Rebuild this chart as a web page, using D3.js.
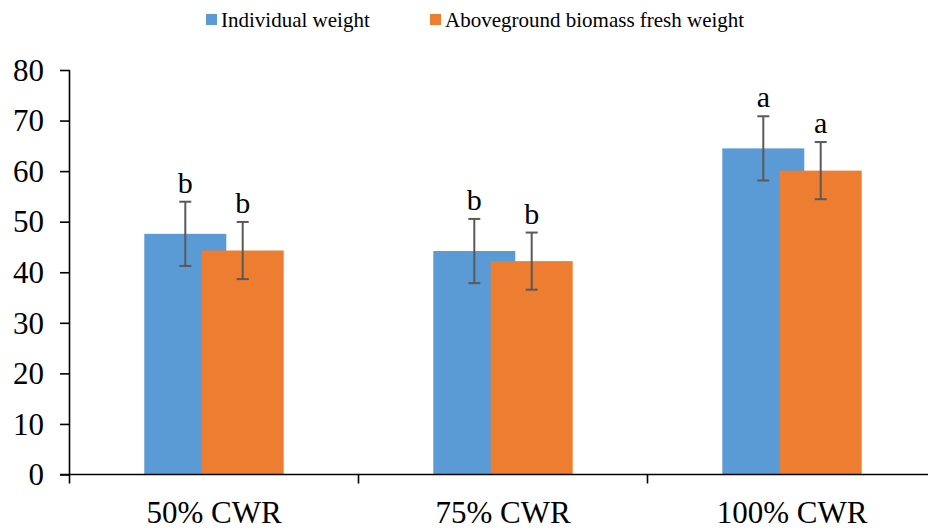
<!DOCTYPE html>
<html>
<head>
<meta charset="utf-8">
<script src="https://cdn.jsdelivr.net/npm/d3@7"></script>
<style>
  body { margin: 0; background: #fff; }
  svg { display: block; }
  svg text { font-family: "Liberation Serif", "Times New Roman", Times, "DejaVu Serif", serif; }
</style>
</head>
<body>
<svg width="928" height="531"></svg>
<script>
// data
const categories = ["50% CWR", "75% CWR", "100% CWR"];
const seriesNames = ["Individual weight", "Aboveground biomass fresh weight"];
const individualWeight = [47.6, 44.2, 64.5];
const individualErr = [6.35, 6.35, 6.35];
const biomassWeight = [44.3, 42.2, 60.1];
const biomassErr = [5.65, 5.65, 5.65];
const individualLetters = ["b", "b", "a"];
const biomassLetters = ["b", "b", "a"];
const yTicks = [0, 10, 20, 30, 40, 50, 60, 70, 80];
const colors = ["#5B9BD5", "#ED7D31"];

const series = [
    { name: seriesNames[0], values: individualWeight, err: individualErr, letters: individualLetters },
    { name: seriesNames[1], values: biomassWeight, err: biomassErr, letters: biomassLetters }
];

const svg = d3.select("svg");
const plotLeft = 69.5, plotBottom = 474.5, plotTop = 70;

const x = d3.scaleBand()
    .domain(categories)
    .range([plotLeft, plotLeft + 867])
    .padding(0);
const y = d3.scaleLinear()
    .domain([0, 80])
    .range([plotBottom, plotTop]);

const barW = 82;
const step = barW * 0.7; // bars overlap like the excel chart
const x1 = d3.scalePoint()
    .domain(seriesNames)
    .range([-step / 2, step / 2]);

// bars
series.forEach((s, si) => {
    const g = svg.append("g");
    g.selectAll("rect")
        .data(categories)
        .enter()
        .append("rect")
            .attr("x", (d) => x(d) + x.bandwidth() / 2 + x1(s.name) - barW / 2)
            .attr("y", (d, i) => y(s.values[i]))
            .attr("width", barW)
            .attr("height", (d, i) => y(0) - y(s.values[i]))
            .attr("fill", colors[si]);
});

// error bars + letters
series.forEach((s) => {
    categories.forEach((c, i) => {
        const cx = x(c) + x.bandwidth() / 2 + x1(s.name);
        const hi = y(s.values[i] + s.err[i]), lo = y(s.values[i] - s.err[i]);
        const eg = svg.append("g")
            .attr("stroke", "#595959")
            .attr("stroke-width", 2);
        eg.append("line").attr("x1", cx).attr("x2", cx).attr("y1", hi).attr("y2", lo);
        eg.append("line").attr("x1", cx - 6).attr("x2", cx + 6).attr("y1", hi).attr("y2", hi);
        eg.append("line").attr("x1", cx - 6).attr("x2", cx + 6).attr("y1", lo).attr("y2", lo);

        svg.append("text")
            .attr("x", cx)
            .attr("y", hi - 9)
            .attr("text-anchor", "middle")
            .attr("font-size", 30)
            .attr("fill", "#000")
            .text(s.letters[i]);
    });
});

// y axis
const yAxis = svg.append("g")
    .attr("transform", "translate(" + plotLeft + ",0)")
    .call(d3.axisLeft(y).tickValues(yTicks).tickSize(9.5).tickSizeOuter(0).tickPadding(16));
yAxis.attr("font-family", null);
yAxis.select(".domain").attr("stroke", "#000").attr("stroke-width", 1.6)
    .attr("d", "M0," + plotTop + "V" + (plotBottom + 9));
yAxis.selectAll(".tick line").attr("stroke", "#000").attr("stroke-width", 1.6);
yAxis.selectAll(".tick text")
    .attr("font-size", 31)
    .attr("fill", "#000")
    .attr("dy", "0.33em");

// x axis
const xAxis = svg.append("g")
    .attr("transform", "translate(0," + plotBottom + ")")
    .call(d3.axisBottom(x).tickSize(0).tickPadding(26));
xAxis.attr("font-family", null);
xAxis.select(".domain").attr("stroke", "#000").attr("stroke-width", 1.6)
    .attr("d", "M" + (plotLeft - 9.5) + ",0H928");
xAxis.selectAll(".tick text")
    .attr("font-size", 31)
    .attr("fill", "#000");
xAxis.selectAll(".bound")
    .data(categories.slice(1))
    .enter()
    .append("line")
        .attr("class", "bound")
        .attr("x1", (d) => x(d)).attr("x2", (d) => x(d))
        .attr("y1", 0).attr("y2", 9)
        .attr("stroke", "#000").attr("stroke-width", 1.6);

// legend
const legendX = [206, 430];
const legend = svg.append("g");
series.forEach((s, si) => {
    legend.append("rect")
        .attr("x", legendX[si]).attr("y", 14)
        .attr("width", 11).attr("height", 11)
        .attr("fill", colors[si]);
    legend.append("text")
        .attr("x", legendX[si] + 15)
        .attr("y", 27)
        .attr("font-size", 21)
        .attr("fill", "#000")
        .text(s.name);
});
</script>
</body>
</html>
